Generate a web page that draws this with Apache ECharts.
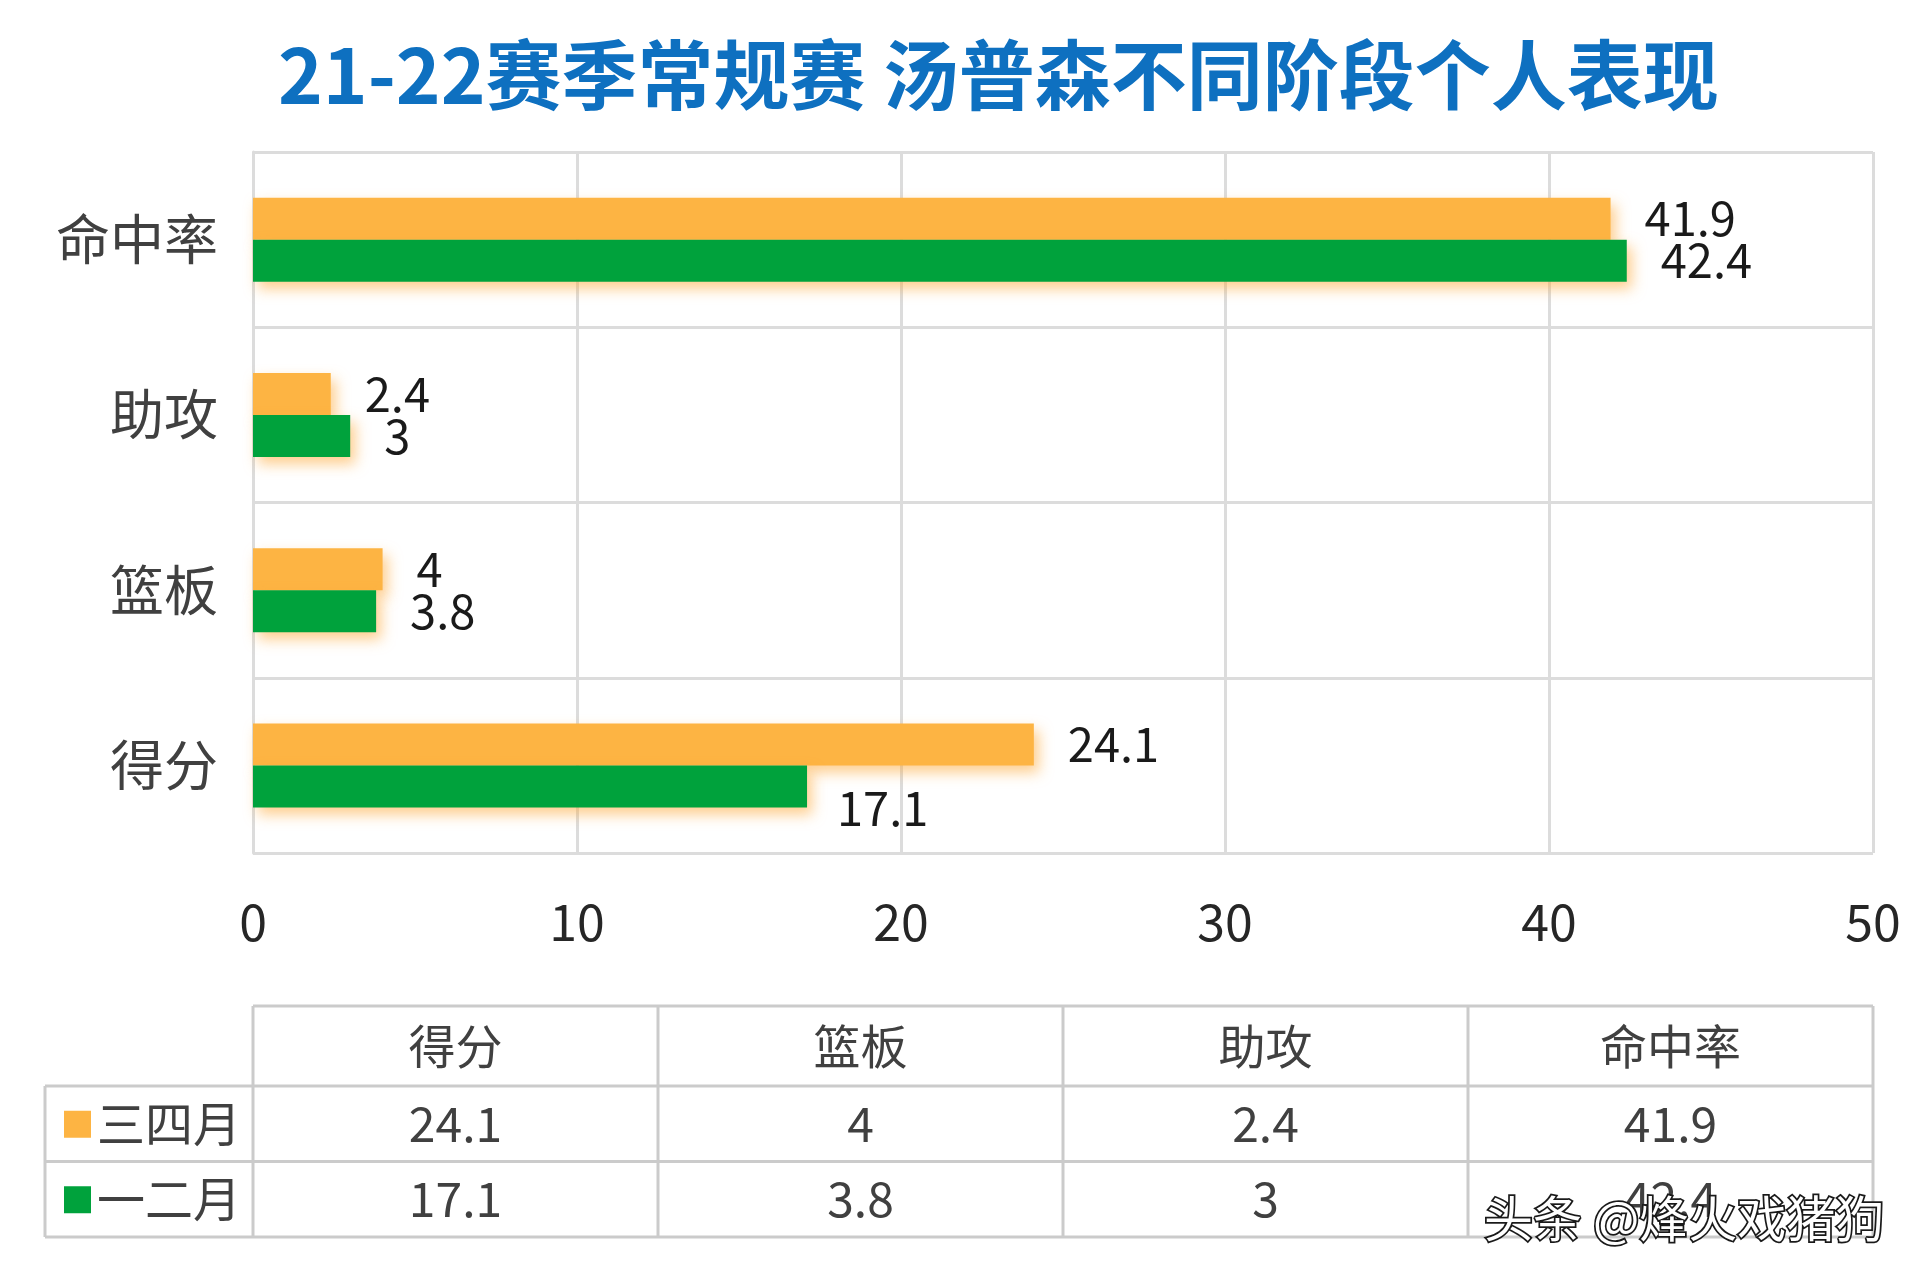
<!DOCTYPE html>
<html>
<head>
<meta charset="utf-8">
<script src="https://cdn.jsdelivr.net/npm/echarts@6/dist/echarts.min.js"></script>
<style>
html,body{margin:0;padding:0;background:#fff;}
#chart{width:1920px;height:1280px;}
</style>
</head>
<body>
<div id="chart"></div>
<script>
// ---- data ----
const titleText = '21-22赛季常规赛 汤普森不同阶段个人表现';
const categories = ['得分', '篮板', '助攻', '命中率'];
const seriesNames = ['三四月', '一二月'];
const marchApril = [24.1, 4, 2.4, 41.9];
const janFeb = [17.1, 3.8, 3, 42.4];
const xTicks = [0, 10, 20, 30, 40, 50];
const watermark = '头条 @烽火戏猪狗';

// ---- layout ----
const W = 1920, H = 1280;
const gridLeft = 253, gridRight = 47, gridTop = 152, gridBottom = 427;
const plotRight = W - gridRight;
const plotW = plotRight - gridLeft;
const colors = ['#FDB443', '#00A23C'];
const font = '"Noto Sans CJK SC", "Noto Sans", sans-serif';
const textColor = '#404040';

const chart = echarts.init(document.getElementById('chart'));

// table graphics
const tableTop = 1006, headerH = 80, rowH = 75.5, legendLeft = 45;
const lineColor = '#cbcbcb';
const g = [];
function hline(y, x1, x2) {
  g.push({type:'line', shape:{x1:x1, y1:y, x2:x2, y2:y}, style:{stroke:lineColor, lineWidth:3}, silent:true});
}
function vline(x, y1, y2) {
  g.push({type:'line', shape:{x1:x, y1:y1, x2:x, y2:y2}, style:{stroke:lineColor, lineWidth:3}, silent:true});
}
const colW = plotW / categories.length;
const row1 = tableTop + headerH, row2 = row1 + rowH, row3 = row2 + rowH;
hline(tableTop, gridLeft, plotRight);
hline(row1, legendLeft, plotRight);
hline(row2, legendLeft, plotRight);
hline(row3, legendLeft, plotRight);
vline(legendLeft, row1, row3);
for (let i = 0; i <= categories.length; i++) vline(gridLeft + i * colW, tableTop, row3);
const rowsData = [marchApril, janFeb];
categories.forEach((c, i) => {
  const cx = gridLeft + (i + 0.5) * colW;
  g.push({type:'text', x:cx, y:tableTop + headerH / 2, style:{text:c, font:'47px ' + font, fill:textColor, align:'center', verticalAlign:'middle'}});
  rowsData.forEach((arr, r) => {
    const cy = row1 + (r + 0.5) * rowH;
    g.push({type:'text', x:cx, y:cy, style:{text:String(arr[i]), font:'48px ' + font, fill:textColor, align:'center', verticalAlign:'middle'}});
  });
});
seriesNames.forEach((n, r) => {
  const cy = row1 + (r + 0.5) * rowH;
  g.push({type:'rect', shape:{x:64, y:cy - 13, width:27, height:27}, style:{fill:colors[r]}});
  g.push({type:'text', x:97, y:cy, style:{text:n, font:'48px ' + font, fill:textColor, align:'left', verticalAlign:'middle'}});
});
g.push({type:'text', x:1484, y:1218, z:100, style:{text:watermark, font:'49px ' + font, fill:'#ffffff', stroke:'#1a1a1a', lineWidth:3.5, align:'left', verticalAlign:'middle'}});

function buildData(arr, sIdx) {
  return arr.map((v, i) => {
    const item = {value: v};
    // the 17.1 label sits slightly lower in the reference
    if (sIdx === 1 && i === 0) item.label = {offset: [-4, 22]};
    return item;
  });
}

const shadow = {shadowColor:'rgba(253,165,50,0.55)', shadowBlur:14, shadowOffsetX:5, shadowOffsetY:7};

chart.setOption({
  backgroundColor:'#ffffff',
  animation:false,
  title:{
    text:titleText, left:273, top:32,
    textStyle:{fontSize:76, fontWeight:'bold', color:'#0E70C0', fontFamily:font}
  },
  grid:{left:gridLeft, right:gridRight, top:gridTop, bottom:gridBottom, containLabel:false},
  xAxis:{
    type:'value', min:xTicks[0], max:xTicks[xTicks.length - 1], interval:xTicks[1] - xTicks[0],
    axisLine:{show:false}, axisTick:{show:false},
    splitLine:{show:true, lineStyle:{color:'#dcdcdc', width:3}},
    axisLabel:{fontSize:50, color:'#262626', margin:44, fontFamily:font}
  },
  yAxis:{
    type:'category', data:categories,
    axisLine:{show:true, lineStyle:{color:'#dcdcdc', width:3}}, axisTick:{show:false},
    splitLine:{show:true, lineStyle:{color:'#dcdcdc', width:3}},
    axisLabel:{fontSize:54, color:textColor, margin:35, fontFamily:font}
  },
  series: seriesNames.map((n, s) => ({
    name:n, type:'bar', data:buildData(s === 0 ? marchApril : janFeb, s),
    barWidth:42, barGap:'0%',
    itemStyle:Object.assign({color:colors[s]}, shadow),
    label:{show:true, position:'right', distance:34, fontSize:47, color:'#1a1a1a', fontFamily:font}
  })),
  graphic:g
});
</script>
</body>
</html>
